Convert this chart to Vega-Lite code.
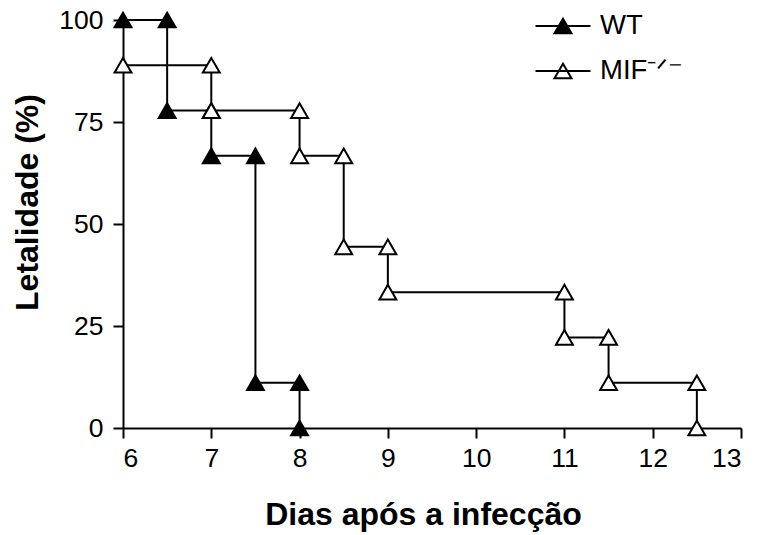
{
  "$schema": "https://vega.github.io/schema/vega-lite/v6.json",
  "width": 618,
  "height": 408,
  "autosize": {"type": "none"},
  "padding": {"left": 123, "top": 20, "right": 17, "bottom": 107},
  "background": "white",
  "config": {
    "view": {"stroke": null},
    "font": "Liberation Sans",
    "axis": {
      "domainColor": "black",
      "domainWidth": 2,
      "tickColor": "black",
      "tickWidth": 2,
      "tickSize": 10,
      "labelColor": "black",
      "labelFont": "Liberation Sans",
      "labelFontSize": 26.5,
      "titleColor": "black",
      "titleFont": "Liberation Sans",
      "titleFontSize": 32,
      "titleFontWeight": "bold",
      "grid": false
    }
  },
  "data": {
    "values": [
      {"group": "WT", "day": 6, "pct": 100, "seq": 1},
      {"group": "WT", "day": 6.5, "pct": 100, "seq": 2},
      {"group": "WT", "day": 6.5, "pct": 77.8, "seq": 3},
      {"group": "WT", "day": 7, "pct": 77.8, "seq": 4},
      {"group": "WT", "day": 7, "pct": 66.7, "seq": 5},
      {"group": "WT", "day": 7.5, "pct": 66.7, "seq": 6},
      {"group": "WT", "day": 7.5, "pct": 11.1, "seq": 7},
      {"group": "WT", "day": 8, "pct": 11.1, "seq": 8},
      {"group": "WT", "day": 8, "pct": 0, "seq": 9},
      {"group": "MIF-/-", "day": 6, "pct": 88.9, "seq": 1},
      {"group": "MIF-/-", "day": 7, "pct": 88.9, "seq": 2},
      {"group": "MIF-/-", "day": 7, "pct": 77.8, "seq": 3},
      {"group": "MIF-/-", "day": 8, "pct": 77.8, "seq": 4},
      {"group": "MIF-/-", "day": 8, "pct": 66.7, "seq": 5},
      {"group": "MIF-/-", "day": 8.5, "pct": 66.7, "seq": 6},
      {"group": "MIF-/-", "day": 8.5, "pct": 44.4, "seq": 7},
      {"group": "MIF-/-", "day": 9, "pct": 44.4, "seq": 8},
      {"group": "MIF-/-", "day": 9, "pct": 33.3, "seq": 9},
      {"group": "MIF-/-", "day": 11, "pct": 33.3, "seq": 10},
      {"group": "MIF-/-", "day": 11, "pct": 22.2, "seq": 11},
      {"group": "MIF-/-", "day": 11.5, "pct": 22.2, "seq": 12},
      {"group": "MIF-/-", "day": 11.5, "pct": 11.1, "seq": 13},
      {"group": "MIF-/-", "day": 12.5, "pct": 11.1, "seq": 14},
      {"group": "MIF-/-", "day": 12.5, "pct": 0, "seq": 15}
    ]
  },
  "encoding": {
    "x": {
      "field": "day", "type": "quantitative",
      "scale": {"domain": [6, 13], "nice": false, "zero": false},
      "axis": {"values": [6, 7, 8, 9, 10, 11, 12, 13], "title": "Dias após a infecção", "labelPadding": 7, "titlePadding": 28, "titleX": 300}
    },
    "y": {
      "field": "pct", "type": "quantitative",
      "scale": {"domain": [0, 100], "nice": false},
      "axis": {"values": [0, 25, 50, 75, 100], "title": "Letalidade (%)", "labelPadding": 10, "titlePadding": 14, "titleY": 182}
    }
  },
  "layer": [
    {
      "mark": {"type": "line", "color": "black", "strokeWidth": 2, "interpolate": "linear"},
      "encoding": {
        "detail": {"field": "group"},
        "order": {"field": "seq"}
      }
    },
    {
      "mark": {"type": "point", "shape": "triangle-up", "size": 285, "stroke": "black", "strokeWidth": 2, "opacity": 1, "filled": true},
      "encoding": {
        "fill": {
          "field": "group", "type": "nominal",
          "scale": {"domain": ["WT", "MIF-/-"], "range": ["black", "white"]},
          "legend": {
            "orient": "none",
            "legendX": 424,
            "legendY": -10,
            "title": null,
            "padding": 0,
            "symbolType": "M-1.833,0L1.833,0M0,-0.491L0.567,0.491L-0.567,0.491Z",
            "symbolSize": 900,
            "symbolStrokeColor": "black",
            "symbolStrokeWidth": 2,
            "symbolOpacity": 1,
            "labelFont": "Liberation Sans",
            "labelFontSize": 27.5,
            "labelColor": "black",
            "labelOffset": 21,
            "rowPadding": 15,
            "labelExpr": "datum.label == 'MIF-/-' ? 'MIF⁻ᐟ⁻' : datum.label"
          }
        }
      }
    }
  ]
}
